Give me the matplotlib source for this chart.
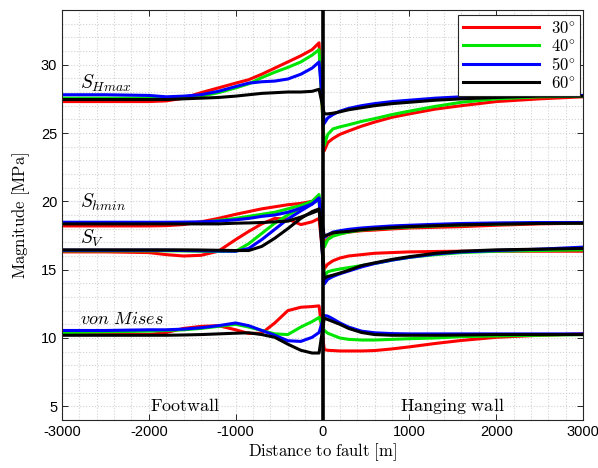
import numpy as np
import matplotlib
matplotlib.use("Agg")
import matplotlib.pyplot as plt
from matplotlib.ticker import MultipleLocator

plt.rcParams['mathtext.fontset'] = 'cm'
plt.rcParams['axes.unicode_minus'] = False
plt.rcParams['font.family'] = ['Liberation Sans', 'DejaVu Sans']

# posizioni lungo la sezione (footwall a sinistra, hanging wall a destra)
x_foot = [-3000, -2500, -2000, -1800, -1600, -1400, -1200, -1000, -850, -700, -550, -400, -250, -120, -40]
x_hang = [20, 60, 120, 200, 300, 450, 600, 800, 1000, 1300, 1600, 2000, 2500, 3000]

angles = ['30', '40', '50', '60']
colors = ['#ff0000', '#00e600', '#0000ff', '#000000']

# S_Hmax
shmax_foot = [
    [27.3, 27.3, 27.3, 27.35, 27.55, 27.95, 28.3, 28.65, 28.9, 29.3, 29.75, 30.2, 30.65, 31.1, 31.6],
    [27.55, 27.55, 27.55, 27.55, 27.6, 27.7, 27.95, 28.3, 28.6, 29.05, 29.45, 29.8, 30.2, 30.7, 31.1],
    [27.8, 27.8, 27.75, 27.65, 27.7, 27.8, 28.05, 28.4, 28.65, 28.75, 28.8, 28.95, 29.3, 29.75, 30.2],
    [27.45, 27.45, 27.45, 27.45, 27.5, 27.55, 27.6, 27.7, 27.8, 27.9, 27.95, 28.0, 28.0, 28.05, 28.2],
]
shmax_hang = [
    [23.7, 24.3, 24.6, 24.9, 25.15, 25.5, 25.8, 26.15, 26.4, 26.75, 27.0, 27.3, 27.5, 27.65],
    [24.1, 24.9, 25.3, 25.45, 25.6, 25.85, 26.05, 26.35, 26.6, 26.95, 27.25, 27.5, 27.65, 27.7],
    [25.7, 26.1, 26.35, 26.6, 26.8, 27.0, 27.15, 27.3, 27.4, 27.55, 27.65, 27.7, 27.75, 27.75],
    [26.4, 26.4, 26.45, 26.55, 26.7, 26.85, 27.0, 27.15, 27.25, 27.4, 27.5, 27.6, 27.7, 27.7],
]

# S_hmin
shmin_foot = [
    [18.2, 18.2, 18.2, 18.22, 18.3, 18.5, 18.75, 19.05, 19.25, 19.45, 19.6, 19.75, 19.85, 20.0, 20.3],
    [18.4, 18.4, 18.4, 18.4, 18.4, 18.45, 18.6, 18.75, 18.9, 19.05, 19.2, 19.45, 19.7, 20.0, 20.5],
    [18.47, 18.47, 18.47, 18.47, 18.48, 18.5, 18.55, 18.65, 18.75, 18.9, 19.0, 19.2, 19.5, 19.8, 20.25],
    [18.35, 18.35, 18.35, 18.35, 18.35, 18.35, 18.35, 18.4, 18.42, 18.45, 18.5, 18.55, 18.85, 19.15, 19.35],
]
shmin_hang = [
    [16.9, 17.25, 17.5, 17.65, 17.75, 17.85, 17.9, 17.98, 18.05, 18.1, 18.15, 18.25, 18.35, 18.4],
    [16.65, 17.2, 17.45, 17.6, 17.75, 17.9, 17.98, 18.05, 18.12, 18.2, 18.27, 18.33, 18.4, 18.42],
    [17.35, 17.55, 17.75, 17.85, 17.95, 18.05, 18.12, 18.2, 18.25, 18.32, 18.38, 18.42, 18.45, 18.45],
    [17.45, 17.55, 17.7, 17.75, 17.8, 17.92, 18.0, 18.08, 18.15, 18.22, 18.28, 18.33, 18.38, 18.4],
]

# S_V
sv_foot = [
    [16.3, 16.3, 16.25, 16.1, 16.0, 16.05, 16.35, 17.2, 17.8, 18.35, 18.75, 18.7, 18.3, 18.5, 18.75],
    [16.38, 16.38, 16.38, 16.38, 16.37, 16.35, 16.33, 16.35, 16.9, 17.65, 18.4, 19.0, 19.5, 19.85, 20.1],
    [16.42, 16.42, 16.42, 16.42, 16.4, 16.38, 16.36, 16.35, 16.55, 17.2, 17.95, 18.7, 19.3, 19.8, 20.2],
    [16.45, 16.45, 16.45, 16.45, 16.45, 16.44, 16.42, 16.4, 16.4, 16.7, 17.3, 18.0, 18.75, 19.25, 19.45],
]
sv_hang = [
    [15.07, 15.4, 15.65, 15.85, 16.0, 16.1, 16.2, 16.25, 16.3, 16.33, 16.35, 16.35, 16.35, 16.35],
    [14.5, 14.85, 14.95, 15.05, 15.15, 15.3, 15.45, 15.7, 15.9, 16.1, 16.25, 16.35, 16.4, 16.45],
    [13.95, 14.3, 14.5, 14.7, 14.9, 15.2, 15.45, 15.7, 15.9, 16.15, 16.3, 16.4, 16.5, 16.65],
    [14.35, 14.5, 14.6, 14.75, 14.95, 15.3, 15.5, 15.75, 15.95, 16.2, 16.35, 16.45, 16.5, 16.55],
]

# von Mises
vm_foot = [
    [10.25, 10.25, 10.25, 10.4, 10.7, 10.85, 10.9, 10.6, 10.33, 10.35, 11.1, 12.0, 12.25, 12.3, 12.35],
    [10.4, 10.45, 10.5, 10.55, 10.6, 10.7, 10.85, 11.0, 10.8, 10.55, 10.3, 10.25, 10.8, 11.2, 11.5],
    [10.55, 10.55, 10.6, 10.6, 10.65, 10.75, 10.9, 11.1, 10.9, 10.55, 10.2, 9.8, 9.75, 10.05, 10.4],
    [10.2, 10.2, 10.2, 10.2, 10.22, 10.25, 10.3, 10.35, 10.38, 10.25, 10.05, 9.55, 9.1, 8.9, 8.9],
]
vm_hang = [
    [9.15, 9.1, 9.08, 9.05, 9.05, 9.05, 9.08, 9.2, 9.35, 9.6, 9.82, 10.05, 10.2, 10.3],
    [10.55, 10.35, 10.2, 10.0, 9.9, 9.85, 9.85, 9.9, 9.95, 10.0, 10.1, 10.15, 10.2, 10.25],
    [11.65, 11.6, 11.4, 11.1, 10.8, 10.5, 10.38, 10.32, 10.3, 10.3, 10.3, 10.3, 10.3, 10.3],
    [11.45, 11.35, 11.2, 11.0, 10.7, 10.4, 10.25, 10.2, 10.2, 10.2, 10.22, 10.25, 10.25, 10.25],
]

fig = plt.figure(figsize=(5.98, 4.68), dpi=100)
ax = fig.add_axes([0.1037, 0.1026, 0.8713, 0.876])

x_all = np.array(x_foot + x_hang)
for i in range(4):
    for foot, hang in [(shmax_foot, shmax_hang), (shmin_foot, shmin_hang),
                       (sv_foot, sv_hang), (vm_foot, vm_hang)]:
        y = np.array(foot[i] + hang[i])
        lab = r'$%s^{\circ}$' % angles[i] if foot is shmax_foot else None
        ax.plot(x_all, y, color=colors[i], lw=2.2, label=lab, solid_joinstyle='round')

# faglia
ax.axvline(0, color='black', lw=2.6, zorder=5)

ax.set_xlim(-3000, 3000)
ax.set_ylim(4, 34)
ax.xaxis.set_major_locator(MultipleLocator(1000))
ax.xaxis.set_minor_locator(MultipleLocator(200))
ax.yaxis.set_major_locator(MultipleLocator(5))
ax.yaxis.set_minor_locator(MultipleLocator(1))
ax.grid(True, which='both', linestyle=':', color='#d2d2d2', lw=0.8)
ax.set_axisbelow(True)
ax.tick_params(which='major', direction='in', length=4.5, top=True, right=True,
               labelsize=10.5, color='#262626', width=0.7)
ax.tick_params(which='minor', length=0)
for s in ax.spines.values():
    s.set_color('#262626')
    s.set_linewidth(0.8)

ax.set_xlabel(r'$\mathrm{Distance\ to\ fault\ [m]}$', fontsize=12, labelpad=2)
ax.set_ylabel(r'$\mathrm{Magnitude\ [MPa]}$', fontsize=12, labelpad=6)

ax.text(-2790, 28.6, r'$S_{Hmax}$', fontsize=14, va='center', ha='left')
ax.text(-2790, 19.9, r'$S_{hmin}$', fontsize=14, va='center', ha='left')
ax.text(-2790, 17.3, r'$S_V$', fontsize=14, va='center', ha='left')
ax.text(-2790, 11.35, r'$von\ Mises$', fontsize=13, va='center', ha='left')
ax.text(-1580, 5.0, r'$\mathrm{Footwall}$', fontsize=13, va='center', ha='center')
ax.text(1490, 5.0, r'$\mathrm{Hanging\ wall}$', fontsize=13, va='center', ha='center')

leg = ax.legend(loc='upper right', bbox_to_anchor=(0.995, 0.988), fontsize=12,
                handlelength=4.6, fancybox=False, framealpha=1, edgecolor='#262626',
                borderpad=0.3, labelspacing=0.12, handletextpad=0.7, borderaxespad=0)
leg.get_frame().set_linewidth(0.8)
leg.set_zorder(10)

fig.savefig('out.png', dpi=100)
